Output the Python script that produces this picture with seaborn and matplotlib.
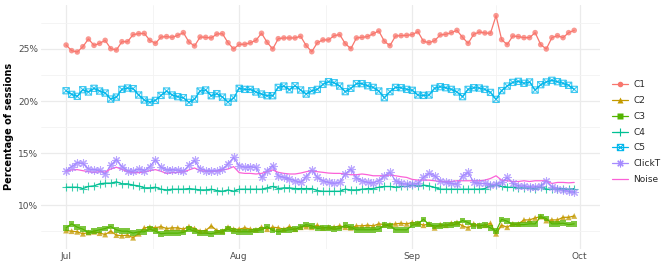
import pandas as pd
import matplotlib
matplotlib.use("Agg")
import matplotlib.pyplot as plt
import matplotlib.dates as mdates
from matplotlib.ticker import FixedLocator, FuncFormatter
from matplotlib.lines import Line2D
from matplotlib.path import Path
import seaborn as sns

# daily share of sessions per group, Jul 1 - Sep 30
dates = pd.date_range("2017-07-01", "2017-09-30", freq="D")

c1 = [25.38, 24.84, 24.71, 25.22, 25.96, 25.35, 25.54, 25.83, 25.03, 24.90, 25.70, 25.70, 26.38, 26.47, 26.50, 25.83,
      25.54, 26.15, 26.19, 26.12, 26.31, 26.57, 25.67, 25.29, 26.15, 26.12, 26.06, 26.44, 26.47, 25.60, 25.00, 25.45,
      25.45, 25.60, 25.83, 26.51, 25.64, 25.00, 25.99, 26.06, 26.06, 26.06, 26.22, 25.32, 24.74, 25.61, 25.87, 25.87,
      26.28, 26.38, 25.51, 25.03, 26.06, 26.12, 26.19, 26.47, 26.73, 25.74, 25.32, 26.25, 26.28, 26.31, 26.38, 26.67,
      25.74, 25.61, 25.80, 26.35, 26.41, 26.57, 26.79, 26.12, 25.54, 26.41, 26.63, 26.54, 26.51, 28.20, 25.90, 25.42,
      26.25, 26.19, 26.09, 26.09, 26.57, 25.42, 25.00, 26.09, 26.28, 26.09, 26.57, 26.79]
c2 = [7.56, 7.50, 7.44, 7.25, 7.37, 7.44, 7.31, 7.18, 7.50, 7.12, 7.06, 7.12, 6.87, 7.25, 7.82, 7.88,
      7.82, 7.94, 7.75, 7.82, 7.82, 7.69, 7.94, 7.75, 7.50, 7.56, 8.01, 7.56, 7.50, 7.88, 7.69, 7.69,
      7.82, 7.69, 7.63, 7.88, 7.69, 7.88, 7.82, 7.69, 7.94, 7.69, 7.88, 7.94, 7.88, 8.07, 7.82, 7.88,
      7.88, 8.01, 7.88, 7.82, 8.01, 8.01, 8.07, 8.01, 8.20, 8.13, 8.13, 8.20, 8.26, 8.20, 8.33, 8.26,
      8.07, 8.20, 7.82, 8.13, 8.07, 8.26, 8.33, 8.01, 7.82, 8.20, 8.07, 8.07, 8.26, 7.25, 8.07, 7.88,
      8.20, 8.20, 8.58, 8.58, 8.77, 8.90, 8.52, 8.58, 8.58, 8.83, 8.83, 8.96]
c3 = [7.82, 8.20, 7.88, 7.69, 7.37, 7.50, 7.63, 7.75, 7.94, 7.63, 7.50, 7.50, 7.31, 7.44, 7.44, 7.69,
      7.50, 7.25, 7.31, 7.31, 7.31, 7.37, 7.69, 7.50, 7.31, 7.31, 7.25, 7.37, 7.44, 7.69, 7.50, 7.44,
      7.44, 7.44, 7.56, 7.63, 7.94, 7.56, 7.44, 7.56, 7.63, 7.69, 7.88, 8.13, 8.01, 7.75, 7.82, 7.82,
      7.69, 7.75, 8.07, 7.88, 7.63, 7.63, 7.63, 7.63, 7.69, 8.07, 8.01, 7.63, 7.63, 7.63, 8.07, 8.20,
      8.64, 8.13, 8.01, 8.01, 8.07, 8.07, 8.20, 8.52, 8.33, 8.01, 8.01, 8.07, 7.82, 7.50, 8.64, 8.45,
      8.13, 8.13, 8.13, 8.20, 8.20, 8.90, 8.71, 8.20, 8.20, 8.26, 8.13, 8.20]
c4 = [11.72, 11.72, 11.72, 11.59, 11.79, 11.85, 12.05, 12.11, 12.11, 12.24, 12.05, 12.05, 11.92, 11.85, 11.66, 11.66,
      11.72, 11.53, 11.46, 11.53, 11.53, 11.53, 11.59, 11.53, 11.46, 11.46, 11.53, 11.40, 11.33, 11.46, 11.33, 11.53,
      11.53, 11.53, 11.53, 11.53, 11.66, 11.79, 11.59, 11.66, 11.66, 11.59, 11.59, 11.59, 11.59, 11.40, 11.33, 11.33,
      11.33, 11.33, 11.53, 11.46, 11.46, 11.53, 11.59, 11.59, 11.72, 11.79, 11.79, 11.72, 11.79, 11.79, 11.92, 11.85,
      11.92, 11.85, 11.70, 11.53, 11.53, 11.53, 11.53, 11.53, 11.53, 11.53, 11.53, 11.59, 11.85, 11.98, 11.79, 11.72,
      11.72, 11.66, 11.66, 11.66, 11.59, 11.72, 11.53, 11.53, 11.59, 11.59, 11.53, 11.59]
c5 = [20.99, 20.64, 20.45, 21.09, 20.87, 21.22, 20.96, 20.77, 20.19, 20.38, 21.12, 21.25, 21.19, 20.58, 20.10, 19.87,
      20.06, 20.54, 20.96, 20.58, 20.42, 20.32, 19.87, 20.19, 20.96, 21.06, 20.51, 20.71, 20.38, 19.90, 20.29, 21.22,
      21.12, 21.12, 20.87, 20.67, 20.51, 20.51, 21.31, 21.44, 21.09, 21.47, 21.06, 20.67, 20.99, 21.12, 21.60, 21.86,
      21.76, 21.44, 20.90, 21.22, 21.67, 21.67, 21.47, 21.31, 20.96, 20.32, 20.90, 21.31, 21.28, 21.12, 21.03, 20.58,
      20.54, 20.58, 21.22, 21.38, 21.28, 21.12, 20.87, 20.42, 21.12, 21.28, 21.25, 21.12, 20.83, 20.16, 21.00, 21.44,
      21.79, 21.89, 21.70, 21.83, 21.06, 21.57, 21.83, 21.99, 21.86, 21.70, 21.51, 21.12]
click_t = [13.31, 13.70, 14.09, 14.03, 13.47, 13.41, 13.38, 12.99, 13.83, 14.38, 13.70, 13.31, 13.25, 13.47, 13.31, 13.70,
           14.35, 13.64, 13.38, 13.41, 13.38, 13.25, 13.83, 14.29, 13.51, 13.31, 13.31, 13.31, 13.44, 13.96, 14.58, 13.80,
           13.64, 13.70, 13.64, 12.66, 13.31, 13.80, 12.82, 12.66, 12.50, 12.34, 12.18, 12.73, 13.38, 12.66, 12.34, 12.18,
           12.08, 12.18, 12.99, 13.47, 12.60, 12.34, 12.18, 12.14, 12.34, 12.82, 13.15, 12.34, 12.08, 12.01, 12.01, 12.08,
           12.66, 13.05, 12.82, 12.34, 12.18, 12.08, 12.01, 12.82, 13.15, 12.18, 12.08, 12.08, 11.95, 12.01, 12.18, 12.66,
           12.08, 11.85, 11.85, 11.75, 11.75, 11.85, 12.34, 11.75, 11.55, 11.42, 11.32, 11.22]
noise = [13.25, 13.38, 13.41, 13.31, 13.21, 13.15, 13.21, 13.18, 13.47, 13.64, 13.44, 13.21, 13.12, 13.12, 13.18, 13.31,
         13.41, 13.25, 13.05, 13.12, 13.15, 13.18, 13.38, 13.57, 13.31, 13.25, 13.21, 13.25, 13.38, 13.47, 13.70, 13.12,
         13.05, 13.05, 12.99, 13.05, 13.21, 13.38, 13.15, 13.05, 12.99, 12.99, 13.08, 13.21, 13.31, 13.21, 13.15, 13.08,
         13.05, 13.05, 12.99, 12.92, 12.92, 12.99, 12.92, 12.82, 12.82, 12.82, 12.89, 12.82, 12.73, 12.66, 12.47, 12.40,
         12.40, 12.40, 12.34, 12.27, 12.27, 12.27, 12.34, 12.34, 12.34, 12.34, 12.34, 12.40, 12.56, 12.82, 12.40, 12.34,
         12.27, 12.27, 12.34, 12.27, 12.34, 12.34, 12.34, 12.08, 12.18, 12.18, 12.14, 12.18]

groups = ["C1", "C2", "C3", "C4", "C5", "ClickT", "Noise"]
palette = ["#F8766D", "#C49A00", "#53B400", "#00C094", "#00B6EB", "#A58AFF", "#FB61D7"]

y_major = [10, 15, 20, 25]
y_minor = [7.5, 12.5, 17.5, 22.5, 27.5]

df = pd.DataFrame({"date": dates, "C1": c1, "C2": c2, "C3": c3, "C4": c4,
                   "C5": c5, "ClickT": click_t, "Noise": noise})
df = df.melt(id_vars="date", var_name="group", value_name="pct")

# square with a cross, like ggplot shape 7
box_x = Path([(-1, -1), (1, -1), (1, 1), (-1, 1), (-1, -1), (-1, -1), (1, 1), (-1, 1), (1, -1)],
             [Path.MOVETO, Path.LINETO, Path.LINETO, Path.LINETO, Path.CLOSEPOLY,
              Path.MOVETO, Path.LINETO, Path.MOVETO, Path.LINETO])
markers = {"C1": "o", "C2": "^", "C3": "s", "C4": "+", "C5": box_x, "ClickT": (8, 2, 0), "Noise": None}
sizes = {"C1": 16, "C2": 18, "C3": 16, "C4": 30, "C5": 20, "ClickT": 30}

sns.set_theme(style="white")
fig = plt.figure(figsize=(6.67, 2.67), dpi=100)
ax = fig.add_axes([0.061, 0.068, 0.838, 0.915])

for g, col in zip(groups, palette):
    sub = df[df["group"] == g]
    sns.lineplot(data=sub, x="date", y="pct", color=col, lw=0.9, ax=ax, legend=False)
    m = markers[g]
    if m is None:
        continue
    if g == "C5":
        sns.scatterplot(data=sub, x="date", y="pct", marker=m, s=sizes[g], facecolor="none",
                        edgecolor=col, linewidth=0.8, alpha=0.75, ax=ax, legend=False, zorder=3)
    elif g in ("C4", "ClickT"):
        sns.scatterplot(data=sub, x="date", y="pct", marker=m, s=sizes[g], color=col,
                        linewidth=0.8, alpha=0.75, ax=ax, legend=False, zorder=3)
    else:
        sns.scatterplot(data=sub, x="date", y="pct", marker=m, s=sizes[g], color=col,
                        edgecolor="none", alpha=0.75, ax=ax, legend=False, zorder=3)

ax.set_xlim(dates[0] - pd.Timedelta(days=4.55), dates[-1] + pd.Timedelta(days=4.55))
ax.set_ylim(5.8, 29.27)

ax.xaxis.set_major_locator(mdates.MonthLocator())
ax.xaxis.set_major_formatter(mdates.DateFormatter("%b"))
mids = [pd.Timestamp("2017-07-16 12:00"), pd.Timestamp("2017-08-16 12:00"), pd.Timestamp("2017-09-16")]
ax.xaxis.set_minor_locator(FixedLocator(mdates.date2num(mids)))
ax.yaxis.set_major_locator(FixedLocator(y_major))
ax.yaxis.set_minor_locator(FixedLocator(y_minor))
ax.yaxis.set_major_formatter(FuncFormatter(lambda v, p: f"{v:g}%"))

ax.grid(which="major", color="#EBEBEB", lw=0.9)
ax.grid(which="minor", color="#F3F3F3", lw=0.6)
ax.set_axisbelow(True)
for s in ax.spines.values():
    s.set_visible(False)
ax.tick_params(which="both", length=0, labelsize=6.5, labelcolor="#4D4D4D", pad=2)
ax.set_xlabel("")
ax.set_ylabel("Percentage of sessions", fontsize=7, fontweight="bold", color="black", labelpad=3)

handles = []
for g, col in zip(groups, palette):
    m = markers[g]
    if m is None:
        h = Line2D([], [], color=col, lw=0.9)
    elif g == "C5":
        h = Line2D([], [], color=col, lw=0.9, marker=m, markersize=4.5, markerfacecolor="none", mew=0.8)
    elif g in ("C4", "ClickT"):
        h = Line2D([], [], color=col, lw=0.9, marker=m, markersize=5.5, mew=0.8)
    else:
        h = Line2D([], [], color=col, lw=0.9, marker=m, markersize=4, markeredgecolor="none")
    handles.append(h)

fig.legend(handles, groups, loc="center left", bbox_to_anchor=(0.905, 0.505), frameon=False,
           fontsize=6.5, handlelength=1.8, handletextpad=0.6, labelspacing=0.75)

fig.savefig("out.png", dpi=100)
